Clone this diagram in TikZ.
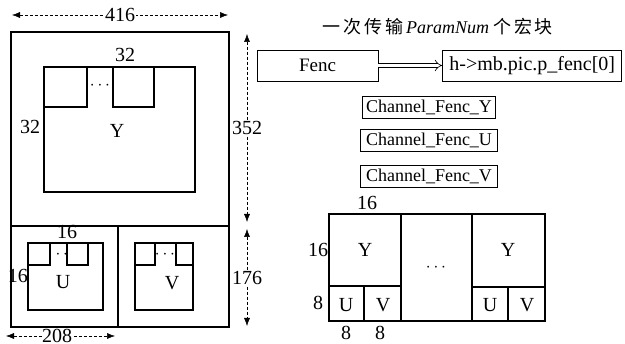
\documentclass[tikz,border=0pt]{standalone}
\usepackage{fontspec}
\setmainfont{Liberation Serif}
\newfontfamily\cjk[LetterSpace=15]{Noto Sans CJK SC}
\usetikzlibrary{arrows.meta,positioning}

\begin{document}
\begin{tikzpicture}[
    x=1pt, y=-1pt,
    font=\fontsize{19}{21}\selectfont,
    node distance=10pt and 64pt,
    frame/.style={draw, line width=1.1pt},
    dim/.style={
      densely dashed,
      line width=0.5pt,
      {Latex[length=8pt,width=6pt]}-{Latex[length=8pt,width=6pt]}
    },
    dimlbl/.style={fill=white, inner sep=1pt, font=\fontsize{20}{22}\selectfont},
    tag/.style={inner sep=0pt, font=\fontsize{20}{22}\selectfont},
    box/.style={
      draw,
      line width=0.8pt,
      inner sep=2pt,
      minimum height=22pt,
      font=\fontsize{18}{20}\selectfont
    },
    transfer/.style={-{Implies[scale=1.8]}, double, double distance=3.5pt, line width=0.6pt}
  ]
  \useasboundingbox (0,0) rectangle (625,344);

  % frame: Y, U and V planes
  \draw[frame] (11,32) rectangle (229,226);
  \draw[frame] (11,226) rectangle (229,327);
  \draw[frame] (118,226) -- (118,327);

  \draw[frame] (44,67) rectangle (195,192);
  \draw[frame] (44,67) rectangle (87,107);
  \draw[frame] (113,67) rectangle (154,107);

  \draw[frame] (28,243) rectangle (103,310);
  \draw[frame] (28,243) rectangle (50,265);
  \draw[frame] (67,243) rectangle (88,265);

  \draw[frame] (135,243) rectangle (193,310);
  \draw[frame] (135,243) rectangle (155,265);
  \draw[frame] (176,243) rectangle (193,265);

  \node (ydots) at (100,86) {$\cdots$};
  \node (udots) at (58,255) {$\cdots$};
  \node (vdots) at (165,255) {$\cdots$};

  \node[tag] (ytop) at (125,55) {32};
  \node[tag] (yleft) at (30,127) {32};
  \node[tag] (yname) at (117,131) {Y};
  \node[tag] (utop) at (67,232) {16};
  \node[tag] (uleft) at (18,276) {16};
  \node[tag] (uname) at (63,282) {U};
  \node[tag] (vname) at (172,283) {V};

  % dimensions
  \coordinate (w0) at (12,15);
  \coordinate (w1) at (228,15);
  \coordinate (h0) at (247,34);
  \coordinate (h1) at (247,222);
  \coordinate (c0) at (247,229);
  \coordinate (c1) at (247,326);
  \coordinate (u0) at (6,336);
  \coordinate (u1) at (115,336);
  \draw[dim] (w0) -- node[dimlbl] (wlbl) {416} (w1);
  \draw[dim] (h0) -- node[dimlbl] (hlbl) {352} (h1);
  \draw[dim] (c0) -- node[dimlbl] (clbl) {176} (c1);
  \draw[dim] (u0) -- node[dimlbl, pos=0.47, inner sep=0.5pt] (ulbl) {208} (u1);

  % transfer
  \node[font=\fontsize{18}{20}\selectfont] (title) at (438,27)
    {{\cjk 一次传输}\,\textit{ParamNum} {\cjk 个宏块}};
  \node[box, minimum width=121pt, minimum height=31pt, font=\fontsize{19}{21}\selectfont]
    (fenc) at (317.5,65.5) {Fenc};
  \node[box, minimum width=179pt, minimum height=31pt, font=\fontsize{20}{22}\selectfont,
    right=of fenc] (pfenc) {h->mb.pic.p\_fenc[0]};
  \draw[transfer] (fenc) -- (pfenc);

  \node[box, minimum width=133pt] (chy) at (429,107) {Channel\_Fenc\_Y};
  \node[box, minimum width=137pt, below=11pt of chy] (chu) {Channel\_Fenc\_U};
  \node[box, minimum width=137pt, below=13pt of chu] (chv) {Channel\_Fenc\_V};

  % macroblock row
  \draw[frame] (329,214) rectangle (545,321);
  \draw[frame] (401,214) -- (401,321);
  \draw[frame] (472,214) -- (472,321);
  \draw[frame] (329,286) -- (401,286);
  \draw[frame] (364,286) -- (364,321);
  \draw[frame] (472,287) -- (545,287);
  \draw[frame] (508,287) -- (508,321);

  \node[tag] (mbtop) at (367,203) {16};
  \node[tag] (mbleft) at (318,250) {16};
  \node[tag] (uvleft) at (318,303) {8};
  \node[tag] (ubot) at (346,333) {8};
  \node[tag] (vbot) at (380,333) {8};
  \node[tag] (mby) at (365,250) {Y};
  \node[tag] (mbu) at (346,305) {U};
  \node[tag] (mbv) at (383,305) {V};
  \node (mbdots) at (436,268) {$\cdots$};
  \node[tag] (lasty) at (508,250) {Y};
  \node[tag] (lastu) at (490,305) {U};
  \node[tag] (lastv) at (527,305) {V};
\end{tikzpicture}
\end{document}
